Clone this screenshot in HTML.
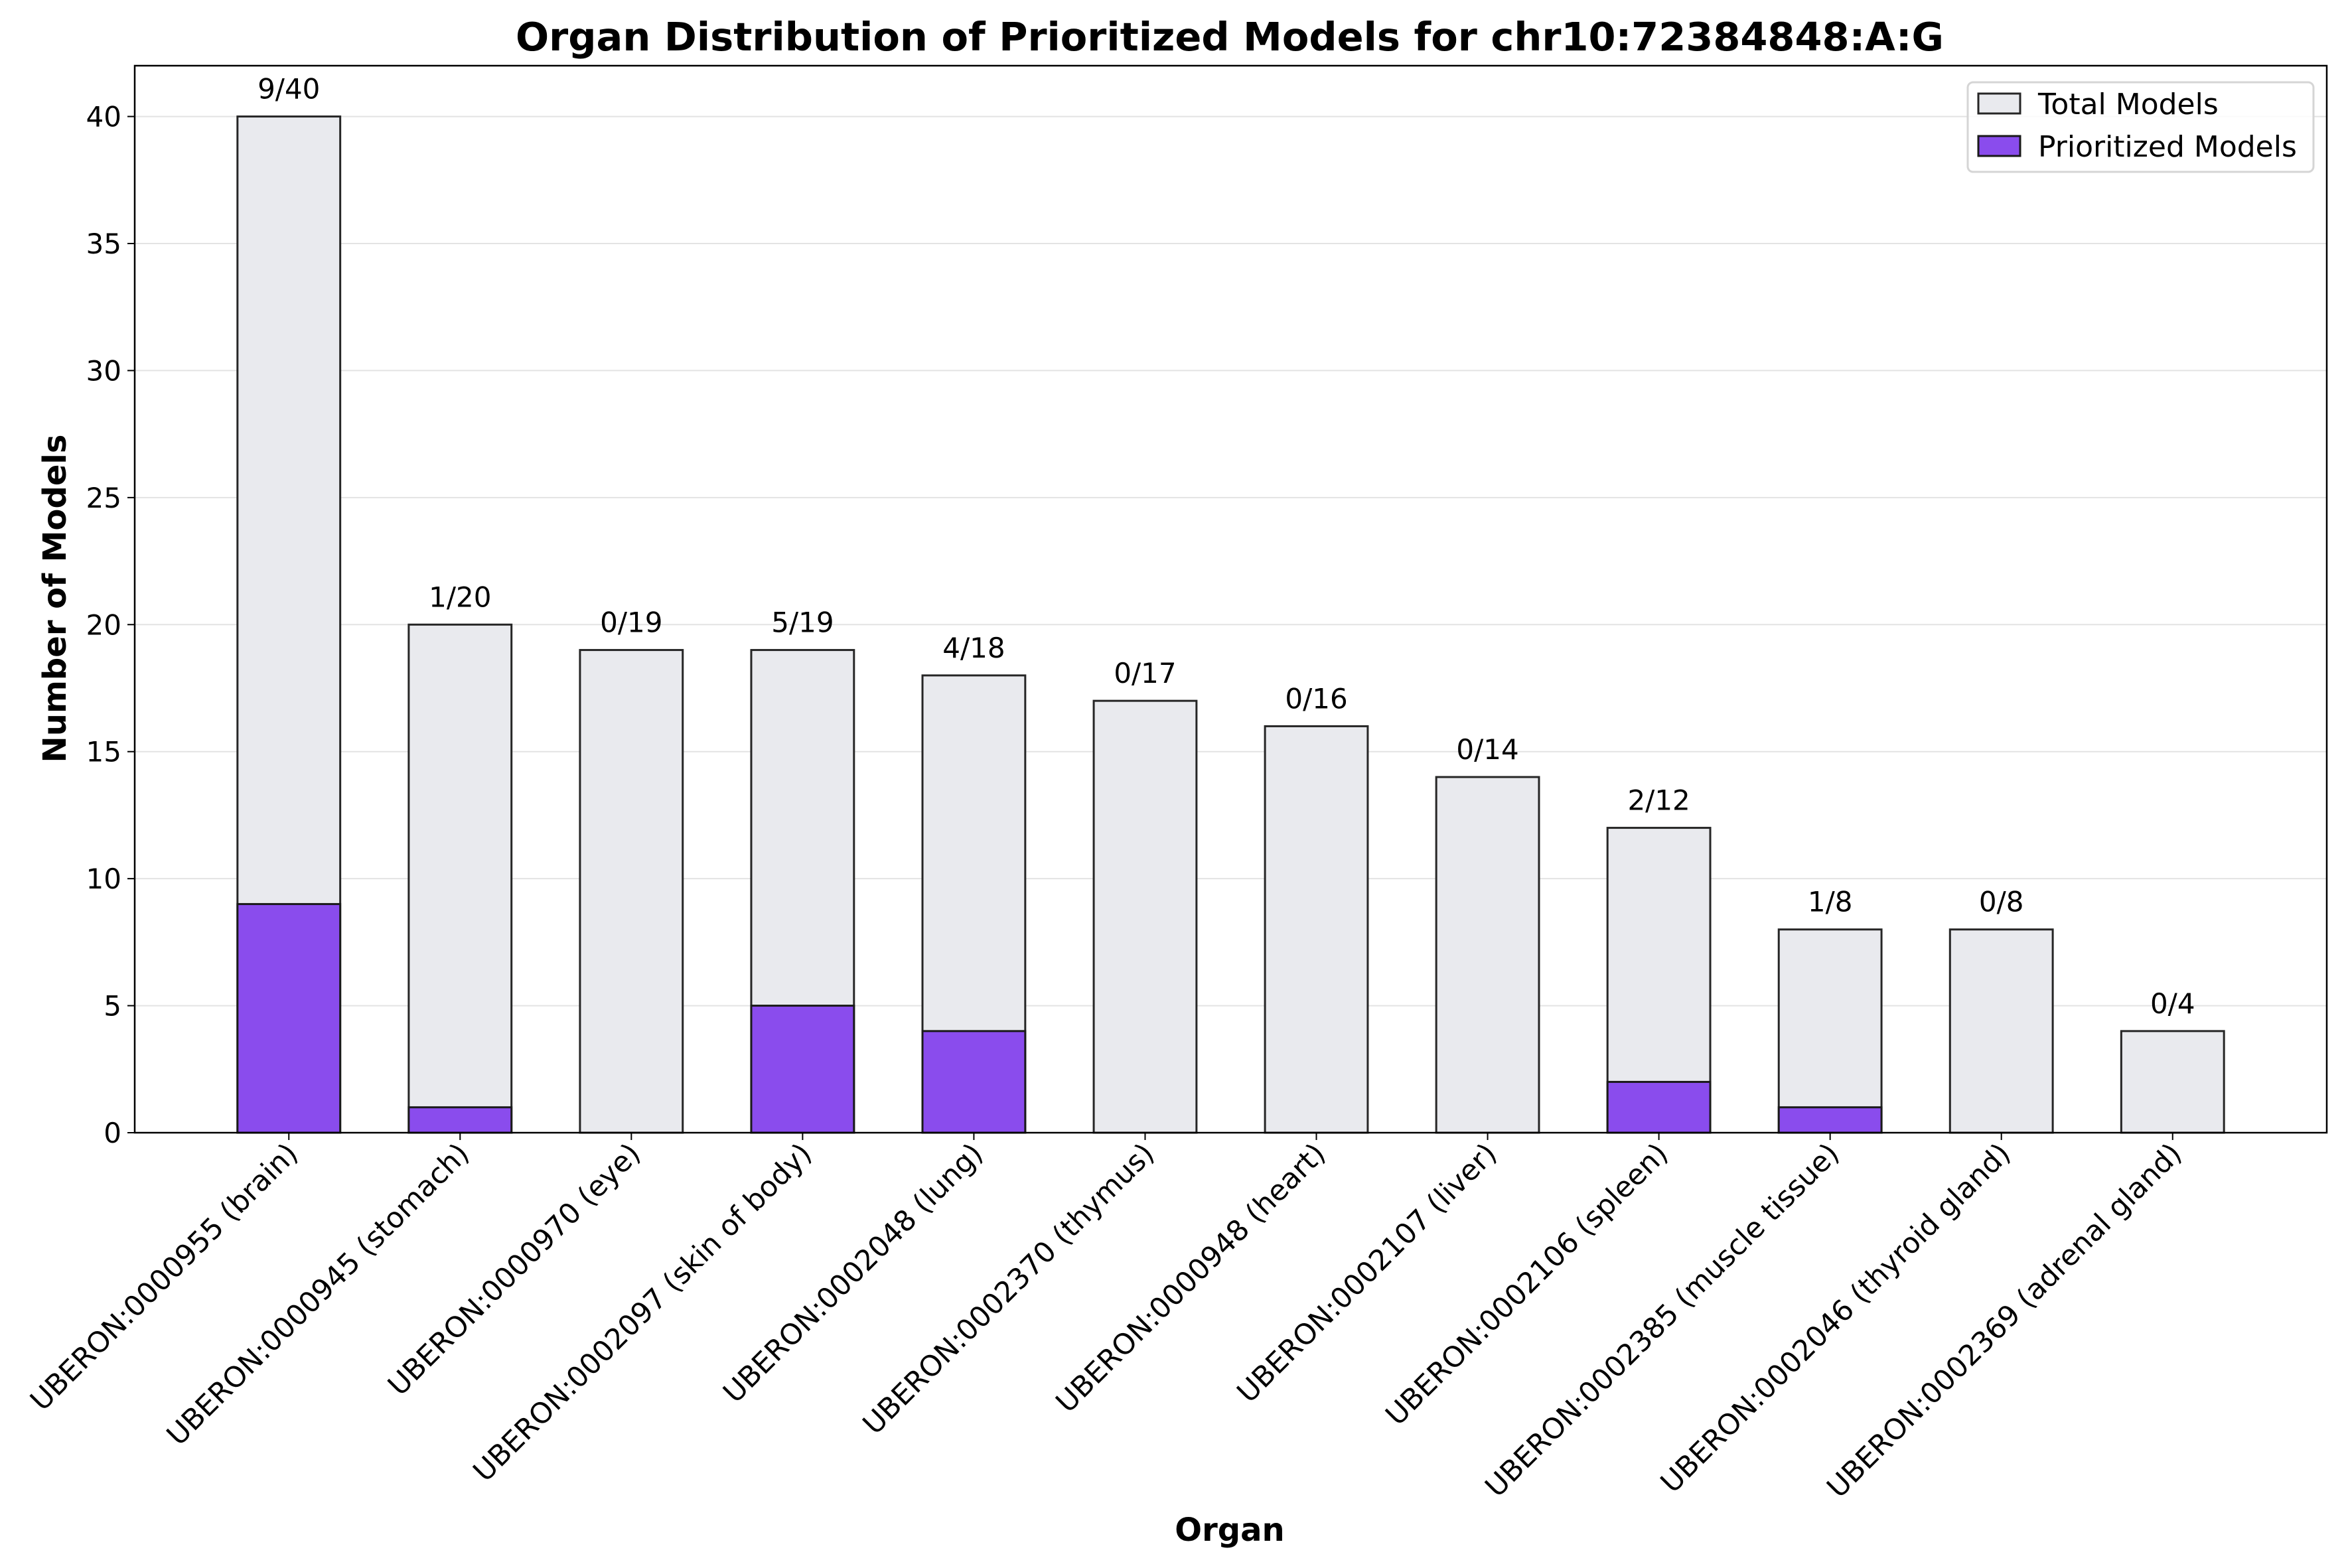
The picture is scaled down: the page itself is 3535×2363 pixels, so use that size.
<!DOCTYPE html>
<html><head><meta charset="utf-8"><style>
html,body{margin:0;padding:0;background:#fff;}
svg{display:block;font-family:"DejaVu Sans","Liberation Sans",sans-serif;}
</style></head><body>
<svg id="chart" width="3535" height="2363" viewBox="0 0 3535 2363" xmlns="http://www.w3.org/2000/svg">
<rect width="3535" height="2363" fill="#fff"/>
<text x="1853" y="76" font-size="59" font-weight="bold" text-anchor="middle">Organ Distribution of Prioritized Models for chr10:72384848:A:G</text>
<g id="grid"></g>
<g id="bars"></g>
<g id="axes"></g>
<text x="1853" y="2322" font-size="48" font-weight="bold" text-anchor="middle">Organ</text>
<text transform="translate(99,902) rotate(-90)" font-size="48" font-weight="bold" text-anchor="middle">Number of Models</text>
<g>
<rect x="2965" y="124" width="521" height="135" rx="8" fill="#fff" fill-opacity="0.8" stroke="#d5d5d5" stroke-width="3"/>
<rect x="2981" y="141" width="63" height="30" fill="#e9eaee" stroke="#262626" stroke-width="3"/>
<text x="3071" y="172" font-size="44">Total Models</text>
<rect x="2981" y="205" width="63" height="30" fill="#8a4ced" stroke="#1a1a1a" stroke-width="3"/>
<text x="3071" y="236" font-size="44">Prioritized Models</text>
</g>
</svg>
<script>
const categories = ["UBERON:0000955 (brain)","UBERON:0000945 (stomach)","UBERON:0000970 (eye)","UBERON:0002097 (skin of body)","UBERON:0002048 (lung)","UBERON:0002370 (thymus)","UBERON:0000948 (heart)","UBERON:0002107 (liver)","UBERON:0002106 (spleen)","UBERON:0002385 (muscle tissue)","UBERON:0002046 (thyroid gland)","UBERON:0002369 (adrenal gland)"];
const totalModels = [40,20,19,19,18,17,16,14,12,8,8,4];
const prioritizedModels = [9,1,0,5,4,0,0,0,2,1,0,0];
const yTicks = [0,5,10,15,20,25,30,35,40];

const NS="http://www.w3.org/2000/svg";
const L=203,R=3506,T=99,B=1707;
const xMin=-0.9,xMax=categories.length-1+0.9,yMin=0,yMax=42;
const xs=v=>L+(v-xMin)/(xMax-xMin)*(R-L);
const ys=v=>B-(v-yMin)/(yMax-yMin)*(B-T);
const bw=0.6*(R-L)/(xMax-xMin);
function mk(tag,attrs,parent){const e=document.createElementNS(NS,tag);for(const k in attrs)e.setAttribute(k,attrs[k]);parent.appendChild(e);return e;}
const grid=document.getElementById('grid'),bars=document.getElementById('bars'),axes=document.getElementById('axes');
yTicks.forEach(t=>{
  const g=mk('line',{x1:L,x2:R,y1:ys(t),y2:ys(t),stroke:'#e3e3e3','stroke-width':2},grid);
  
  
  const tk=mk('line',{x1:L-11,x2:L,y1:ys(t),y2:ys(t),stroke:'#000','stroke-width':2},axes);
  
  
  const tl=mk('text',{x:L-20,y:ys(t)+15,'font-size':42,'text-anchor':'end'},axes);
  tl.textContent=t;
  
  
});
categories.forEach((c,i)=>{
  const cx=xs(i);
  const r1=mk('rect',{x:cx-bw/2,y:ys(totalModels[i]),width:bw,height:ys(0)-ys(totalModels[i]),fill:'#e9eaee',stroke:'#262626','stroke-width':3},bars);
  
  
  if(prioritizedModels[i]>0){
    const r2=mk('rect',{x:cx-bw/2,y:ys(prioritizedModels[i]),width:bw,height:ys(0)-ys(prioritizedModels[i]),fill:'#8a4ced',stroke:'#1a1a1a','stroke-width':3},bars);
    
    
  }
  const vl=mk('text',{x:cx,y:ys(totalModels[i])-27,'font-size':42,'text-anchor':'middle'},bars);
  vl.textContent=prioritizedModels[i]+'/'+totalModels[i];
  
  
  const tk=mk('line',{x1:cx,x2:cx,y1:B,y2:B+11,stroke:'#000','stroke-width':2},axes);
  
  
  const tl=mk('text',{transform:`translate(${cx+16},${B+34}) rotate(-45)`,'font-size':43,'text-anchor':'end'},axes);
  tl.textContent=c;
  
  
});
const fr=mk('rect',{x:L,y:T,width:R-L,height:B-T,fill:'none',stroke:'#000','stroke-width':2.5},axes);


</script>
</body></html>
